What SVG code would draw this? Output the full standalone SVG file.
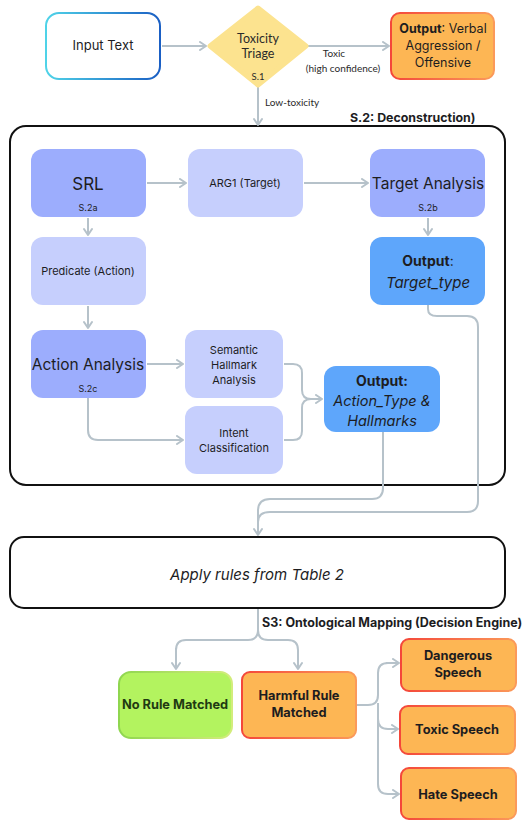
<svg xmlns="http://www.w3.org/2000/svg" width="524" height="821" viewBox="0 0 524 821">
  <defs>
    <linearGradient id="gInput" x1="0" y1="0" x2="1" y2="0">
      <stop offset="0" stop-color="#4fd3e8"/>
      <stop offset="1" stop-color="#1a5fc4"/>
    </linearGradient>
    <linearGradient id="gWarn" x1="0" y1="0" x2="1" y2="0">
      <stop offset="0" stop-color="#f4473a"/>
      <stop offset="1" stop-color="#fb9a5a"/>
    </linearGradient>
    <linearGradient id="gOk" x1="0" y1="0" x2="1" y2="0">
      <stop offset="0" stop-color="#8fd64f"/>
      <stop offset="1" stop-color="#d3ec7c"/>
    </linearGradient>
    <marker id="arrow" viewBox="0 0 10 10" refX="8" refY="5" markerWidth="10" markerHeight="10" markerUnits="userSpaceOnUse" orient="auto">
      <path d="M2,1 L8,5 L2,9" fill="none" stroke="#b6c2ca" stroke-width="2" stroke-linecap="round" stroke-linejoin="round"/>
    </marker>
    <style>
      .t { font-family: Inter, "Noto Sans", "Liberation Sans", sans-serif; fill: #1d1d1f; text-anchor: middle; }
      .l { font-family: Lato, "Liberation Sans", sans-serif; fill: #2a2a2a; text-anchor: middle; }
      .s { text-anchor: start; }
      .b { font-weight: 700; }
      .i { font-style: italic; }
      .light { fill: #c6cffd; }
      .mid { fill: #9cadfd; }
      .out { fill: #5ea6fb; }
      .warn { fill: #fdb654; stroke: url(#gWarn); stroke-width: 2; }
      .frame { fill: #ffffff; stroke: #111111; stroke-width: 2; }
      .c { fill: none; stroke: #b6c2ca; stroke-width: 2; }
      .ca { fill: none; stroke: #b6c2ca; stroke-width: 2; marker-end: url(#arrow); }
    </style>
  </defs>

  <rect width="524" height="821" fill="#ffffff"/>

  <!-- stage 2 container -->
  <g id="stage2">
    <rect class="frame" x="10" y="126" width="495" height="359" rx="16"/>
    <text class="t b s" x="350" y="122" font-size="12.4">S.2: Deconstruction)</text>
  </g>

  <!-- connectors -->
  <g id="connectors">
    <line class="ca" x1="162" y1="46" x2="206" y2="46"/>
    <line class="ca" x1="308" y1="46" x2="389" y2="46"/>
    <line class="ca" x1="258" y1="87" x2="258" y2="125"/>
    <line class="ca" x1="147" y1="183" x2="186" y2="183"/>
    <line class="ca" x1="304" y1="183" x2="368" y2="183"/>
    <line class="ca" x1="428" y1="218" x2="428" y2="235"/>
    <line class="ca" x1="88" y1="218" x2="88" y2="235"/>
    <line class="ca" x1="88" y1="306" x2="88" y2="328"/>
    <line class="ca" x1="147" y1="364" x2="183" y2="364"/>
    <path class="ca" d="M88,398 V430 Q88,440 98,440 H183"/>
    <path class="c" d="M284,364 H293 Q302,364 302,373 V390 Q302,399 311,399"/>
    <path class="ca" d="M284,440 H293 Q302,440 302,431 V408 Q302,399 311,399 H322"/>
    <!-- outputs merge into rule engine -->
    <path class="c" d="M428,305 V309 Q428,316 437,316 H467 Q478,316 478,327 V501 Q478,512 467,512 H270 Q258,512 258,522"/>
    <path class="ca" d="M383,432 V488 Q383,499 372,499 H270 Q258,499 258,511 V535"/>
    <!-- stage 3 fan-out -->
    <path class="c" d="M258,609 V630 Q258,640 248,640 H186 Q176,640 176,650"/>
    <path class="ca" d="M176,648 V669"/>
    <path class="ca" d="M258,630 Q258,640 268,640 H288 Q298,640 298,650 V669"/>
    <path class="c" d="M357,705 H368 Q378,705 378,695 V673 Q378,663 388,663"/>
    <path class="ca" d="M386,663 H399"/>
    <path class="ca" d="M378,703 V719 Q378,729 388,729 H398"/>
    <path class="ca" d="M378,719 V784 Q378,794 388,794 H399"/>
    <text class="l" x="334" y="57" font-size="10">Toxic</text>
    <text class="l" x="343" y="72" font-size="10">(high confidence)</text>
    <text class="l s" x="265" y="106" font-size="10">Low-toxicity</text>
    <text class="t b s" x="262" y="627" font-size="12.5">S3: Ontological Mapping (Decision Engine)</text>
  </g>

  <g id="input-text">
    <rect x="46" y="13" width="114" height="66" rx="13" fill="#ffffff" stroke="url(#gInput)" stroke-width="2"/>
    <text class="t" x="103" y="50" font-size="13">Input Text</text>
  </g>

  <g id="triage">
    <polygon points="258,8 306,46 258,85 210,46" fill="#fce38f" stroke="#fce38f" stroke-width="5" stroke-linejoin="round"/>
    <text class="l" x="258" y="43" font-size="12.5">Toxicity</text>
    <text class="l" x="258" y="58" font-size="12.5">Triage</text>
    <text class="l" x="258" y="80" font-size="9.5">S.1</text>
  </g>

  <g id="verbal-output">
    <rect class="warn" x="391" y="13" width="103" height="66" rx="9"/>
    <text class="t" x="443" y="33" font-size="12.5"><tspan class="b">Output</tspan>: Verbal</text>
    <text class="t" x="443" y="50" font-size="12.5">Aggression /</text>
    <text class="t" x="443" y="67" font-size="12.5">Offensive</text>
  </g>

  <g id="srl">
    <rect class="mid" x="31" y="149" width="115" height="68" rx="12"/>
    <text class="t" x="88" y="190" font-size="17">SRL</text>
    <text class="t" x="88" y="211" font-size="9">S.2a</text>
  </g>

  <g id="arg1">
    <rect class="light" x="188" y="149" width="115" height="68" rx="12"/>
    <text class="t" x="245" y="187" font-size="11">ARG1 (Target)</text>
  </g>

  <g id="target-analysis">
    <rect class="mid" x="370" y="149" width="115" height="68" rx="12"/>
    <text class="t" x="428" y="189" font-size="15.5">Target Analysis</text>
    <text class="t" x="428" y="211" font-size="9">S.2b</text>
  </g>

  <g id="target-output">
    <rect class="out" x="370" y="237" width="115" height="68" rx="12"/>
    <text class="t" x="428" y="266" font-size="14"><tspan class="b">Output</tspan>:</text>
    <text class="t i" x="428" y="288" font-size="15">Target_type</text>
  </g>

  <g id="predicate">
    <rect class="light" x="31" y="237" width="115" height="68" rx="12"/>
    <text class="t" x="88" y="275" font-size="11">Predicate (Action)</text>
  </g>

  <g id="action-analysis">
    <rect class="mid" x="31" y="330" width="115" height="68" rx="12"/>
    <text class="t" x="88" y="370" font-size="15.5">Action Analysis</text>
    <text class="t" x="88" y="392" font-size="9">S.2c</text>
  </g>

  <g id="semantic-hallmark">
    <rect class="light" x="185" y="330" width="98" height="68" rx="12"/>
    <text class="t" x="234" y="354" font-size="11">Semantic</text>
    <text class="t" x="234" y="369" font-size="11">Hallmark</text>
    <text class="t" x="234" y="384" font-size="11">Analysis</text>
  </g>

  <g id="intent">
    <rect class="light" x="185" y="406" width="98" height="68" rx="12"/>
    <text class="t" x="234" y="437" font-size="11">Intent</text>
    <text class="t" x="234" y="452" font-size="11">Classification</text>
  </g>

  <g id="action-output">
    <rect class="out" x="324" y="366" width="116" height="66" rx="12"/>
    <text class="t b" x="382" y="386" font-size="14">Output:</text>
    <text class="t i" x="382" y="406" font-size="14.5">Action_Type &amp;</text>
    <text class="t i" x="382" y="426" font-size="14.5">Hallmarks</text>
  </g>

  <g id="apply-rules">
    <rect class="frame" x="10" y="537" width="495" height="71" rx="14"/>
    <text class="t i" x="257" y="580" font-size="15">Apply rules from Table 2</text>
  </g>

  <g id="no-rule">
    <rect x="119" y="672" width="113" height="66" rx="12" fill="#b3f35f" stroke="url(#gOk)" stroke-width="2"/>
    <text class="t b" x="175" y="709" font-size="12.8" style="fill:#1f3a12">No Rule Matched</text>
  </g>

  <g id="harmful-rule">
    <rect class="warn" x="242" y="672" width="114" height="66" rx="8"/>
    <text class="t b" x="299" y="700" font-size="12.8">Harmful Rule</text>
    <text class="t b" x="299" y="717" font-size="12.8">Matched</text>
  </g>

  <g id="dangerous">
    <rect class="warn" x="401" y="639" width="115" height="52" rx="8"/>
    <text class="t b" x="458" y="660" font-size="12.8">Dangerous</text>
    <text class="t b" x="458" y="677" font-size="12.8">Speech</text>
  </g>

  <g id="toxic">
    <rect class="warn" x="400" y="706" width="115" height="48" rx="8"/>
    <text class="t b" x="457" y="734" font-size="12.8">Toxic Speech</text>
  </g>

  <g id="hate">
    <rect class="warn" x="401" y="768" width="115" height="51" rx="8"/>
    <text class="t b" x="458" y="799" font-size="12.8">Hate Speech</text>
  </g>
</svg>
